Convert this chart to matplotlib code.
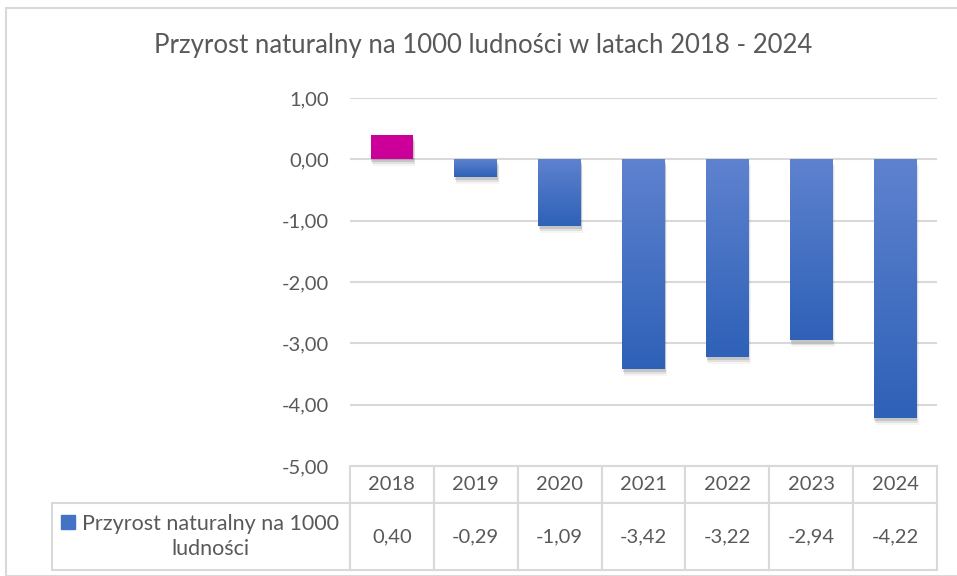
import numpy as np
import matplotlib
matplotlib.use("Agg")
import matplotlib.pyplot as plt
import matplotlib.patheffects as pe
import matplotlib.transforms as mtransforms
from matplotlib.patches import Rectangle
from matplotlib.table import Table
from matplotlib.ticker import FuncFormatter

years = ["2018", "2019", "2020", "2021", "2022", "2023", "2024"]
values = [0.40, -0.29, -1.09, -3.42, -3.22, -2.94, -4.22]
series_label = "Przyrost naturalny na 1000\nludności"
title = "Przyrost naturalny na 1000 ludności w latach 2018 - 2024"
yticks = [-5, -4, -3, -2, -1, 0, 1]

plt.rcParams['font.family'] = ['Lato', 'DejaVu Sans']
TXT = '#595959'
GRID = '#D9D9D9'
W, H = 957, 576

def pl(v):
    return f"{v:.2f}".replace('.', ',')

fig = plt.figure(figsize=(W / 100, H / 100), dpi=100)
# outer chart border (only top/left visible in the crop)
fig.patches.append(Rectangle((6 / W, 0), 1, 1 - 8 / H, transform=fig.transFigure,
                             fill=False, edgecolor=GRID, lw=1.5))

ax = fig.add_axes([350 / W, 1 - 466 / H, 587 / W, 368 / H])
x = np.arange(len(years))
bw = 0.51
top_c = np.array([0.37, 0.51, 0.81])
bot_c = np.array([0.18, 0.38, 0.72])
grad = np.linspace(0, 1, 256)[:, None, None] * (bot_c - top_c) + top_c

for xi, v in zip(x, values):
    color = '#CC0099' if v > 0 else '#3F6BC4'
    b = ax.bar(xi, v, bw, color=color, zorder=3,
               path_effects=[pe.SimplePatchShadow(offset=(0.5, -2), shadow_rgbFace='k', alpha=0.12),
                             pe.SimplePatchShadow(offset=(1, -3.5), shadow_rgbFace='k', alpha=0.08),
                             pe.SimplePatchShadow(offset=(1.5, -5), shadow_rgbFace='k', alpha=0.04),
                             pe.Normal()])[0]
    if v < 0:
        im = ax.imshow(grad, extent=(xi - bw / 2, xi + bw / 2, v, 0), aspect='auto',
                       origin='upper', zorder=4)
        im.set_clip_path(b)

ax.set_xlim(-0.5, len(years) - 0.5)
ax.set_ylim(-5, 1)
ax.set_yticks(yticks)
ax.yaxis.set_major_formatter(FuncFormatter(lambda v, p: pl(v)))
ax.set_xticks([])
ax.tick_params(axis='y', length=0, pad=15, labelsize=14.5, labelcolor=TXT)
ax.grid(axis='y', color=GRID, lw=1.5, zorder=0)
for s in ax.spines.values():
    s.set_visible(False)

fig.text(483 / W, 1 - 46 / H, title, ha='center', va='center', fontsize=18.5, color=TXT)

# data table under the plot; the bbox covers the year columns only,
# the series-label column (-1) hangs off to the left
LAB_W = 298 / 587
HDR_H = 37 / 368
ROW_H = 67 / 368
tbl = Table(ax, bbox=[0, -(HDR_H + ROW_H), 1, HDR_H + ROW_H])
cw = 1 / len(years)
tbl.add_cell(1, -1, LAB_W, ROW_H, text="", loc='center')
for c, (yr, v) in enumerate(zip(years, values)):
    tbl.add_cell(0, c, cw, HDR_H, text=yr, loc='center')
    tbl.add_cell(1, c, cw, ROW_H, text=pl(v), loc='center')
tbl.auto_set_font_size(False)
tbl.set_fontsize(14.5)
for (r, c), cell in tbl.get_celld().items():
    cell.set_edgecolor(GRID)
    cell.set_linewidth(1.5)
    cell.get_text().set_color(TXT)
ax.add_table(tbl)

lab_x, lab_y = -LAB_W / 2, -(HDR_H + ROW_H / 2)
ax.annotate(series_label, (lab_x, lab_y), xycoords='axes fraction',
            xytext=(7, 0), textcoords='offset points', ha='center', va='center',
            fontsize=15.5, color=TXT, multialignment='center', annotation_clip=False,
            linespacing=1.35)
ax.plot([lab_x], [lab_y], marker='s', ms=9.5, color='#4472C4', clip_on=False,
        transform=ax.transAxes + mtransforms.ScaledTranslation(-1.335, 0.15, fig.dpi_scale_trans))

fig.savefig("out.png", dpi=100)
